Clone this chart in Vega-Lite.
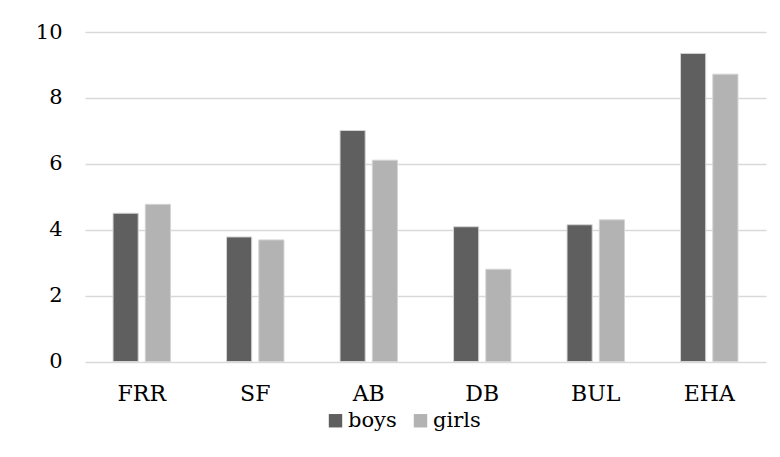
{
  "$schema": "https://vega.github.io/schema/vega-lite/v6.json",
  "width": 681,
  "height": 329.5,
  "autosize": {"type": "none"},
  "padding": {"left": 85, "top": 32, "right": 14, "bottom": 95},
  "background": "white",
  "config": {
    "view": {"stroke": null},
    "font": "DejaVu Serif"
  },
  "data": {
    "values": [
      {"item": "FRR", "group": "boys", "value": 4.50},
      {"item": "FRR", "group": "girls", "value": 4.77},
      {"item": "SF", "group": "boys", "value": 3.78},
      {"item": "SF", "group": "girls", "value": 3.69},
      {"item": "AB", "group": "boys", "value": 7.01},
      {"item": "AB", "group": "girls", "value": 6.11},
      {"item": "DB", "group": "boys", "value": 4.09},
      {"item": "DB", "group": "girls", "value": 2.80},
      {"item": "BUL", "group": "boys", "value": 4.15},
      {"item": "BUL", "group": "girls", "value": 4.30},
      {"item": "EHA", "group": "boys", "value": 9.35},
      {"item": "EHA", "group": "girls", "value": 8.72}
    ]
  },
  "mark": {"type": "bar", "stroke": "#d4d4d4", "strokeWidth": 1},
  "encoding": {
    "x": {
      "field": "item",
      "type": "nominal",
      "sort": ["FRR", "SF", "AB", "DB", "BUL", "EHA"],
      "scale": {"paddingInner": 0.494, "paddingOuter": 0.247},
      "axis": {
        "title": null,
        "labelAngle": 0,
        "ticks": false,
        "domain": false,
        "labelFont": "DejaVu Serif",
        "labelFontSize": 22,
        "labelColor": "#000000",
        "labelPadding": 22
      }
    },
    "xOffset": {
      "field": "group",
      "type": "nominal",
      "scale": {"paddingInner": 0.22, "paddingOuter": 0}
    },
    "y": {
      "field": "value",
      "type": "quantitative",
      "scale": {"domain": [0, 10], "nice": false},
      "axis": {
        "title": null,
        "values": [0, 2, 4, 6, 8, 10],
        "ticks": false,
        "domain": false,
        "grid": true,
        "gridColor": "#d9d9d9",
        "gridWidth": 1.5,
        "labelFont": "DejaVu Serif",
        "labelFontSize": 21,
        "labelColor": "#000000",
        "labelPadding": 23
      }
    },
    "color": {
      "field": "group",
      "type": "nominal",
      "scale": {"domain": ["boys", "girls"], "range": ["#5f5f5f", "#b3b3b3"]},
      "legend": {
        "title": null,
        "orient": "none",
        "direction": "horizontal",
        "legendX": 240,
        "legendY": 378,
        "symbolType": "square",
        "symbolSize": 180,
        "symbolStrokeWidth": 0,
        "labelFont": "DejaVu Serif",
        "labelFontSize": 21,
        "labelColor": "#000000",
        "labelOffset": 2,
        "columnPadding": 13
      }
    }
  }
}
